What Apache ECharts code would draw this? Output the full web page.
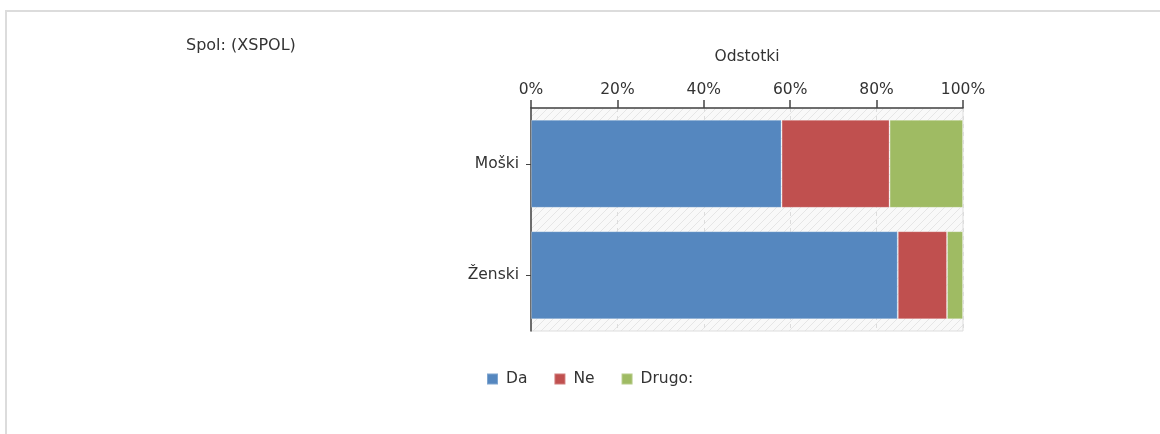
<!DOCTYPE html>
<html>
<head>
<meta charset="utf-8">
<script src="https://cdn.jsdelivr.net/npm/echarts@6/dist/echarts.min.js"></script>
<style>
  html, body { margin: 0; padding: 0; background: #fff; }
  #frame { position: absolute; left: 5px; top: 10px; right: 0; bottom: 0;
           border-top: 2px solid #dcdcdc; border-left: 2px solid #dcdcdc; }
  #chart { position: absolute; left: 0; top: 0; width: 1160px; height: 434px; }
</style>
</head>
<body>
<div id="frame"></div>
<div id="chart"></div>
<script>
// Shares of answers by gender, in percent
const categories = ['Moški', 'Ženski'];
const seriesNames = ['Da', 'Ne', 'Drugo:'];
const daValues = [58.0, 84.9];
const neValues = [25.0, 11.4];
const drugoValues = [17.0, 3.7];
const colors = ['#5587bf', '#c0504f', '#9fbb63'];

// light diagonal hatch for the plot background
const hatch = document.createElement('canvas');
hatch.width = 8; hatch.height = 8;
const hc = hatch.getContext('2d');
hc.fillStyle = '#f9f9f9';
hc.fillRect(0, 0, 8, 8);
hc.strokeStyle = '#e6e6e6';
hc.lineWidth = 1;
hc.beginPath();
hc.moveTo(0, 8); hc.lineTo(8, 0);
hc.moveTo(-4, 4); hc.lineTo(4, -4);
hc.moveTo(4, 12); hc.lineTo(12, 4);
hc.stroke();

const font = 'DejaVu Sans';
const textColor = '#333';
const fs = 15.5;

const chart = echarts.init(document.getElementById('chart'), null, { renderer: 'canvas' });

function bar(name, values, color) {
  return {
    name: name,
    type: 'bar',
    stack: 'total',
    data: values,
    barCategoryGap: '21%',
    itemStyle: { color: color, borderColor: 'rgba(255,255,255,0.25)', borderWidth: 1 },
    emphasis: { disabled: true }
  };
}

chart.setOption({
  animation: false,
  textStyle: { fontFamily: font, color: textColor },
  graphic: [{
    type: 'text', left: 186, top: 38,
    style: { text: 'Spol: (XSPOL)', font: '16px "' + font + '"', fill: textColor }
  }],
  grid: {
    left: 531, right: 197, top: 108, bottom: 103,
    show: true,
    backgroundColor: { image: hatch, repeat: 'repeat' },
    borderColor: '#dddddd', borderWidth: 1
  },
  xAxis: {
    type: 'value',
    position: 'top',
    min: 0, max: 100, interval: 20,
    name: 'Odstotki',
    nameLocation: 'middle',
    nameGap: 43,
    nameTextStyle: { fontFamily: font, fontSize: fs, color: textColor },
    axisLine: { show: true, lineStyle: { color: '#444', width: 1.5 } },
    axisTick: { show: true, length: 8, lineStyle: { color: '#444', width: 1.5 } },
    axisLabel: { formatter: '{value}%', margin: 10, fontFamily: font, fontSize: fs, color: textColor },
    splitLine: { show: true, lineStyle: { color: '#dddddd', type: [4, 4] } }
  },
  yAxis: {
    type: 'category',
    data: categories,
    inverse: true,
    axisLine: { show: true, lineStyle: { color: '#444', width: 1.5 } },
    axisTick: { show: true, alignWithLabel: true, length: 5, lineStyle: { color: '#444' } },
    axisLabel: { margin: 12, fontFamily: font, fontSize: fs, color: textColor },
    splitLine: { show: false }
  },
  legend: {
    left: 481, top: 366,
    itemWidth: 11, itemHeight: 11, itemGap: 26,
    icon: 'rect',
    textStyle: { fontFamily: font, fontSize: fs, color: textColor, padding: [0, 0, 0, 3] },
    data: seriesNames
  },
  series: [
    bar(seriesNames[0], daValues, colors[0]),
    bar(seriesNames[1], neValues, colors[1]),
    bar(seriesNames[2], drugoValues, colors[2])
  ]
});
</script>
</body>
</html>
